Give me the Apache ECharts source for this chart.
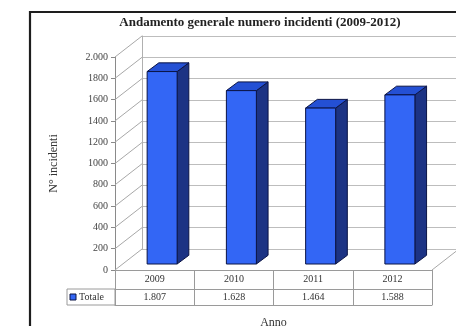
<!DOCTYPE html>
<html>
<head>
<meta charset="utf-8">
<script src="https://cdn.jsdelivr.net/npm/echarts@6/dist/echarts.min.js"></script>
<style>
  html, body { margin: 0; padding: 0; background: #fff; }
  #chart { width: 456px; height: 326px; }
</style>
</head>
<body>
<div id="chart"></div>
<script>
// Incidents per year, 2009-2012
const years = ['2009', '2010', '2011', '2012'];
const totale = [1807, 1628, 1464, 1588];
const totaleLabels = ['1.807', '1.628', '1.464', '1.588'];
const yTicks = [0, 200, 400, 600, 800, 1000, 1200, 1400, 1600, 1800, 2000];
const yTickLabels = ['0', '200', '400', '600', '800', '1000', '1200', '1400', '1600', '1800', '2.000'];

const SERIF = '"Liberation Serif", "DejaVu Serif", serif';
// depth of the 3D box (pixels) and of each bar
const DEPTH = [27, -21];
const BAR_OFF = [7.5, -6];
const BAR_DEPTH = [11.7, -8.7];
const BAR_W = 30;

const chart = echarts.init(document.getElementById('chart'));

function barItem(params, api) {
  const i = api.value(0), v = api.value(1);
  const base = api.coord([i, 0]);
  const top = api.coord([i, v]);
  const x0 = base[0] - BAR_W / 2 + BAR_OFF[0];
  const x1 = x0 + BAR_W;
  const yb = base[1] + BAR_OFF[1];
  const yt = top[1] + BAR_OFF[1];
  const dx = BAR_DEPTH[0], dy = BAR_DEPTH[1];
  const stroke = '#0b1445';
  return {
    type: 'group',
    children: [
      { type: 'polygon', shape: { points: [[x1, yt], [x1 + dx, yt + dy], [x1 + dx, yb + dy], [x1, yb]] },
        style: { fill: '#1c3384', stroke, lineWidth: 1 } },
      { type: 'polygon', shape: { points: [[x0, yt], [x0 + dx, yt + dy], [x1 + dx, yt + dy], [x1, yt]] },
        style: { fill: '#2450d4', stroke, lineWidth: 1 } },
      { type: 'polygon', shape: { points: [[x0, yt], [x1, yt], [x1, yb], [x0, yb]] },
        style: { fill: '#3366f5', stroke, lineWidth: 1 } }
    ]
  };
}

// side wall: diagonals from each front tick to the back wall
function wallItem(params, api) {
  const v = api.value(0);
  const cs = params.coordSys;
  const y = api.coord([0, v])[1];
  const children = [
    { type: 'line', shape: { x1: cs.x, y1: y, x2: cs.x + DEPTH[0], y2: y + DEPTH[1] },
      style: { stroke: '#a8a8a8', lineWidth: 1 } }
  ];
  if (v === 0) {
    const xr = cs.x + cs.width;
    children.push({ type: 'line', shape: { x1: xr, y1: y, x2: xr + DEPTH[0], y2: y + DEPTH[1] },
      style: { stroke: '#a8a8a8', lineWidth: 1 } });
  }
  return { type: 'group', children };
}

const option = {
  backgroundColor: '#fff',
  animation: false,
  grid: [
    { left: 115, top: 57, width: 317, height: 213, outerBoundsMode: 'none', containLabel: false },
    { left: 142, top: 36, right: 0, height: 213, outerBoundsMode: 'none', containLabel: false }
  ],
  xAxis: [
    { gridIndex: 0, type: 'category', data: years, position: 'bottom',
      axisLine: { lineStyle: { color: '#9a9a9a' } },
      axisTick: { show: true, inside: false, length: 35, interval: 0, lineStyle: { color: '#9a9a9a' } },
      axisLabel: { margin: 4, fontSize: 10, color: '#333', fontFamily: SERIF } },
    { gridIndex: 0, type: 'category', data: years, position: 'bottom', offset: 19,
      axisLine: { lineStyle: { color: '#9a9a9a' } },
      axisTick: { show: false },
      axisLabel: { margin: 3, fontSize: 10, color: '#333', fontFamily: SERIF,
        formatter: (val, idx) => totaleLabels[idx] } },
    { gridIndex: 0, type: 'category', data: years, position: 'bottom', offset: 35,
      axisLine: { lineStyle: { color: '#9a9a9a' } },
      axisTick: { show: false }, axisLabel: { show: false },
      name: 'Anno', nameLocation: 'middle', nameGap: 12,
      nameTextStyle: { fontSize: 12, color: '#333', fontFamily: SERIF } },
    { gridIndex: 1, type: 'category', data: years, show: false }
  ],
  yAxis: [
    { gridIndex: 0, type: 'value', min: 0, max: 2000, interval: 200,
      axisLine: { show: true, lineStyle: { color: '#8a8a8a' } },
      axisTick: { show: true, length: 4, lineStyle: { color: '#8a8a8a' } },
      splitLine: { show: false },
      axisLabel: { margin: 7, fontSize: 10, color: '#444', fontFamily: SERIF,
        formatter: (val) => yTickLabels[yTicks.indexOf(val)] },
      name: 'N° incidenti', nameLocation: 'middle', nameGap: 55,
      nameTextStyle: { fontSize: 12, color: '#333', fontFamily: SERIF } },
    { gridIndex: 1, type: 'value', min: 0, max: 2000, interval: 200,
      axisLine: { show: true, lineStyle: { color: '#b0b0b0' } },
      axisTick: { show: false }, axisLabel: { show: false },
      splitLine: { show: true, lineStyle: { color: '#bdbdbd', width: 1.2 } } }
  ],
  series: [
    { type: 'custom', name: 'walls', xAxisIndex: 0, yAxisIndex: 0, silent: true,
      renderItem: wallItem, data: yTicks.map(v => [v]), encode: { y: 0 } },
    { type: 'custom', name: 'Totale', xAxisIndex: 0, yAxisIndex: 0,
      renderItem: barItem, data: totale.map((v, i) => [i, v]), encode: { x: 0, y: 1 } }
  ],
  graphic: [
    { type: 'polyline', shape: { points: [[30, 326], [30, 12], [456, 12]] },
      style: { stroke: '#1e1e1e', lineWidth: 2.2, fill: null } },
    { type: 'text', x: 260, y: 23,
      style: { text: 'Andamento generale numero incidenti (2009-2012)', textAlign: 'center',
        textVerticalAlign: 'middle', font: 'bold 13px ' + SERIF, fill: '#222' } },
    { type: 'rect', shape: { x: 67, y: 289, width: 48, height: 16 },
      style: { stroke: '#9a9a9a', lineWidth: 1, fill: null } },
    { type: 'rect', shape: { x: 70, y: 294, width: 6, height: 6 },
      style: { stroke: '#0b1445', lineWidth: 1, fill: '#3366f5' } },
    { type: 'text', x: 79, y: 297.5,
      style: { text: 'Totale', textVerticalAlign: 'middle', font: '10px ' + SERIF, fill: '#333' } }
  ]
};

chart.setOption(option);
</script>
</body>
</html>
